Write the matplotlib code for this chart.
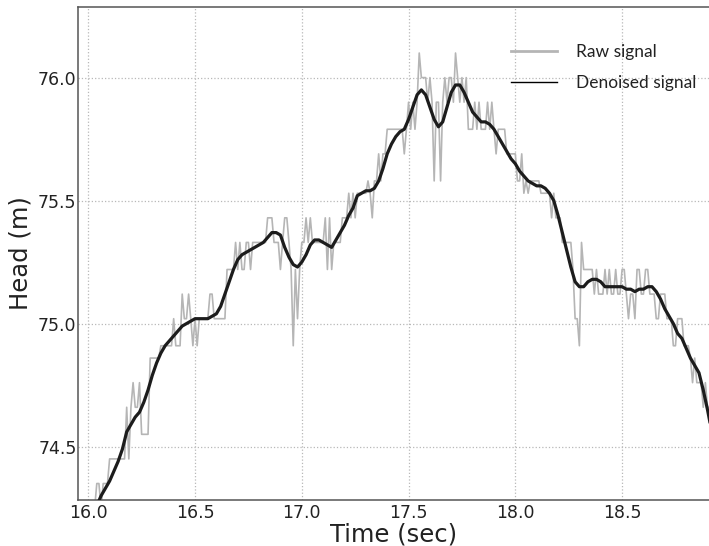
import matplotlib
matplotlib.use("Agg")
import matplotlib.pyplot as plt
import numpy as np
from matplotlib.lines import Line2D


OUTPUT_PATH = "out.png"

# raw head readings, 100 Hz starting at 16.00 s (one row = 0.1 s)
RAW_START = 16.0
RAW_STEP = 0.01
RAW_HEAD = [
    74.25, 74.25, 74.25, 74.25, 74.35, 74.35, 74.25, 74.35, 74.35, 74.35,
    74.45, 74.45, 74.45, 74.45, 74.45, 74.45, 74.45, 74.45, 74.66, 74.45,
    74.66, 74.76, 74.66, 74.66, 74.76, 74.55, 74.55, 74.55, 74.55, 74.86,
    74.86, 74.86, 74.86, 74.86, 74.91, 74.91, 74.91, 74.91, 74.91, 74.91,
    75.02, 74.91, 74.91, 74.91, 75.12, 75.02, 75.02, 75.12, 75.02, 74.91,
    75.02, 74.91, 75.02, 75.02, 75.02, 75.02, 75.02, 75.12, 75.12, 75.02,
    75.02, 75.02, 75.02, 75.02, 75.02, 75.22, 75.22, 75.22, 75.22, 75.33,
    75.22, 75.33, 75.22, 75.22, 75.33, 75.33, 75.22, 75.33, 75.33, 75.33,
    75.33, 75.33, 75.33, 75.33, 75.43, 75.43, 75.43, 75.33, 75.33, 75.33,
    75.22, 75.33, 75.43, 75.43, 75.33, 75.22, 74.91, 75.22, 75.02, 75.22,
    75.33, 75.33, 75.43, 75.33, 75.43, 75.33, 75.33, 75.33, 75.33, 75.33,
    75.33, 75.43, 75.22, 75.43, 75.22, 75.33, 75.33, 75.33, 75.33, 75.43,
    75.43, 75.43, 75.53, 75.43, 75.53, 75.43, 75.53, 75.53, 75.53, 75.53,
    75.53, 75.58, 75.53, 75.43, 75.58, 75.58, 75.69, 75.58, 75.69, 75.69,
    75.79, 75.79, 75.79, 75.79, 75.79, 75.79, 75.79, 75.79, 75.69, 75.79,
    75.90, 75.79, 75.90, 75.79, 75.90, 76.10, 76.00, 76.00, 76.00, 75.90,
    76.00, 75.90, 75.58, 75.90, 75.90, 75.58, 75.90, 76.00, 75.90, 76.00,
    76.00, 75.90, 76.10, 76.00, 75.90, 76.00, 75.90, 76.00, 75.79, 75.79,
    75.79, 75.90, 75.79, 75.90, 75.79, 75.79, 75.79, 75.90, 75.79, 75.90,
    75.79, 75.69, 75.79, 75.79, 75.79, 75.79, 75.69, 75.69, 75.69, 75.69,
    75.69, 75.58, 75.58, 75.69, 75.53, 75.58, 75.53, 75.58, 75.58, 75.58,
    75.58, 75.58, 75.53, 75.53, 75.53, 75.53, 75.53, 75.43, 75.53, 75.43,
    75.43, 75.43, 75.33, 75.33, 75.33, 75.33, 75.33, 75.22, 75.02, 75.02,
    74.91, 75.33, 75.22, 75.22, 75.22, 75.22, 75.22, 75.12, 75.22, 75.12,
    75.12, 75.12, 75.22, 75.12, 75.22, 75.12, 75.12, 75.22, 75.12, 75.12,
    75.22, 75.22, 75.12, 75.02, 75.12, 75.12, 75.02, 75.22, 75.22, 75.12,
    75.12, 75.22, 75.22, 75.12, 75.12, 75.12, 75.02, 75.02, 75.12, 75.12,
    75.12, 75.02, 75.02, 75.02, 74.91, 74.91, 75.02, 75.02, 75.02, 74.91,
    74.91, 74.91, 74.86, 74.76, 74.86, 74.76, 74.76, 74.76, 74.66, 74.76,
    74.66, 74.66,
]

# denoised head, 50 Hz starting at 16.00 s
DENOISED_START = 16.0
DENOISED_STEP = 0.02
DENOISED_HEAD = [
    74.19, 74.23, 74.26, 74.30, 74.33, 74.36, 74.40, 74.44, 74.49, 74.56,
    74.59, 74.62, 74.64, 74.68, 74.73, 74.79, 74.84, 74.88, 74.91, 74.93,
    74.95, 74.97, 74.99, 75.00, 75.01, 75.02, 75.02, 75.02, 75.02, 75.03,
    75.04, 75.07, 75.12, 75.17, 75.22, 75.26, 75.28, 75.29, 75.30, 75.31,
    75.32, 75.33, 75.35, 75.37, 75.37, 75.36, 75.31, 75.27, 75.24, 75.23,
    75.25, 75.28, 75.32, 75.34, 75.34, 75.33, 75.32, 75.31, 75.34, 75.37,
    75.40, 75.44, 75.47, 75.52, 75.53, 75.54, 75.54, 75.55, 75.58, 75.63,
    75.69, 75.73, 75.76, 75.78, 75.79, 75.83, 75.88, 75.93, 75.95, 75.93,
    75.88, 75.83, 75.80, 75.82, 75.88, 75.94, 75.97, 75.97, 75.94, 75.90,
    75.86, 75.84, 75.82, 75.82, 75.81, 75.79, 75.76, 75.73, 75.70, 75.67,
    75.65, 75.62, 75.60, 75.58, 75.57, 75.56, 75.56, 75.55, 75.53, 75.50,
    75.44, 75.37, 75.30, 75.23, 75.17, 75.15, 75.15, 75.17, 75.18, 75.18,
    75.17, 75.15, 75.15, 75.15, 75.15, 75.15, 75.14, 75.14, 75.13, 75.14,
    75.14, 75.15, 75.15, 75.13, 75.10, 75.06, 75.03, 75.00, 74.96, 74.94,
    74.90, 74.86, 74.83, 74.80, 74.73, 74.65, 74.56,
]

X_TICKS = [16.0, 16.5, 17.0, 17.5, 18.0, 18.5]
Y_TICKS = [74.5, 75.0, 75.5, 76.0]
X_LIMITS = (15.952, 18.907)
Y_LIMITS = (74.283, 76.287)

RAW_COLOR = "#b5b5b5"
DENOISED_COLOR = "#1c1c1c"
TEXT_COLOR = "#222222"
SPINE_COLOR = "#555555"


def plot_signals(ax):
    raw_time = RAW_START + RAW_STEP * np.arange(len(RAW_HEAD))
    denoised_time = DENOISED_START + DENOISED_STEP * np.arange(len(DENOISED_HEAD))

    ax.plot(raw_time, RAW_HEAD, color=RAW_COLOR, linewidth=1.2, zorder=2)
    ax.plot(denoised_time, DENOISED_HEAD, color=DENOISED_COLOR, linewidth=2.3,
            solid_capstyle="round", zorder=3)


def style_axes(ax):
    ax.set_xlim(*X_LIMITS)
    ax.set_ylim(*Y_LIMITS)
    ax.set_xticks(X_TICKS)
    ax.set_yticks(Y_TICKS)
    ax.set_xticklabels([f"{v:.1f}" for v in X_TICKS])
    ax.set_yticklabels([f"{v:.1f}" for v in Y_TICKS])

    ax.grid(True, color="#b8b8b8", linestyle=":", linewidth=0.9)
    ax.set_axisbelow(True)
    ax.tick_params(length=0, labelsize=12.5, colors=TEXT_COLOR)
    ax.tick_params(axis="x", pad=3)
    ax.tick_params(axis="y", pad=1)

    for side in ["left", "bottom", "top"]:
        ax.spines[side].set_color(SPINE_COLOR)
        ax.spines[side].set_linewidth(1.1)
    ax.spines["right"].set_visible(False)

    ax.set_xlabel("Time (sec)", fontsize=17.5, color=TEXT_COLOR, labelpad=0)
    ax.set_ylabel("Head (m)", fontsize=17.5, color=TEXT_COLOR, labelpad=4)


def add_legend(fig, ax):
    handles = [
        Line2D([], [], color=RAW_COLOR, linewidth=2.0),
        Line2D([], [], color="black", linewidth=1.0),
    ]
    ax.legend(
        handles,
        ["Raw signal", "Denoised signal"],
        loc="upper left",
        bbox_to_anchor=(511 / 709, 1 - 44 / 546),
        bbox_transform=fig.transFigure,
        frameon=False,
        prop={"family": "Lato", "size": 12.5},
        labelcolor=TEXT_COLOR,
        handlelength=2.65,
        handletextpad=1.1,
        labelspacing=0.85,
        borderpad=0,
        borderaxespad=0,
    )


def main():
    fig = plt.figure(figsize=(7.09, 5.46), dpi=100)
    ax = fig.add_axes([78 / 709, 46 / 546, 631 / 709, 493 / 546])

    plot_signals(ax)
    style_axes(ax)
    add_legend(fig, ax)

    fig.savefig(OUTPUT_PATH, dpi=100)
    plt.close(fig)


if __name__ == "__main__":
    main()
